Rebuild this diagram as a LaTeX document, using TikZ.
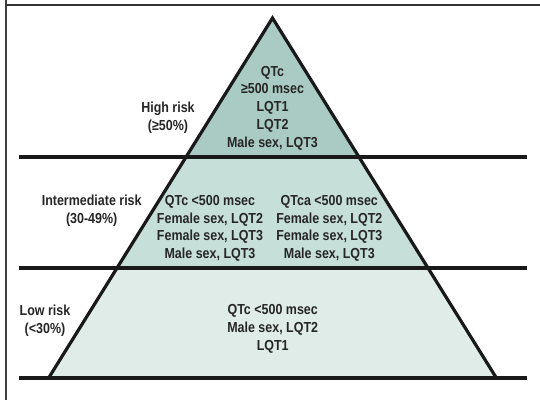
\documentclass[tikz,border=0pt]{standalone}
\usepackage{fontspec}
\setmainfont{Liberation Sans}[FakeStretch=0.86]
\begin{document}
\begin{tikzpicture}[x=1pt,y=-1pt,
  lbl/.style={font=\bfseries\fontsize{14.5}{17.7}\selectfont, text=black!85, align=center, inner sep=0pt},
  band/.style={line width=3.5pt, black!90},
  edge/.style={line width=3.2pt, black!90, line join=miter}]
\useasboundingbox (0,0) rectangle (540,400);
\fill[white] (0,0) rectangle (540,400);
% frame
\draw[line width=1.6pt, black!75] (6,0) -- (6,400);
\draw[line width=2pt, black!80] (6,5) -- (540,5);
% corners of the pyramid
\coordinate (apex) at (272.5,18);
\coordinate (b1l) at (186,157);
\coordinate (b1r) at (359,157);
\coordinate (b2l) at (117,268);
\coordinate (b2r) at (428,268);
\coordinate (b3l) at (48.6,378);
\coordinate (b3r) at (496.4,378);
% fills
\fill[fill={rgb,255:red,169;green,203;blue,195}] (apex) -- (b1l) -- (b1r) -- cycle;
\fill[fill={rgb,255:red,198;green,223;blue,216}] (b1l) -- (b1r) -- (b2r) -- (b2l) -- cycle;
\fill[fill={rgb,255:red,224;green,236;blue,232}] (b2l) -- (b2r) -- (b3r) -- (b3l) -- cycle;
% sides
\draw[edge] (b3l) -- (apex) -- (b3r);
% bands
\draw[band] (19,157) -- (527,157);
\draw[band] (19,268) -- (527,268);
\draw[band] (19,378) -- (527,378);
% labels
\node[lbl] (top) at (272.5,108) {QTc\\≥500 msec\\LQT1\\LQT2\\Male sex, LQT3};
\node[lbl] (high) at (168,117.5) {High risk\\(≥50\%)};
\node[lbl] (inter) at (91.7,211) {Intermediate risk\\(30-49\%)};
\node[lbl] (mid1) at (210,228.5) {QTc <500 msec\\Female sex, LQT2\\Female sex, LQT3\\Male sex, LQT3};
\node[lbl] (mid2) at (329.3,228.5) {QTca <500 msec\\Female sex, LQT2\\Female sex, LQT3\\Male sex, LQT3};
\node[lbl] (low) at (45,320.5) {Low risk\\(<30\%)};
\node[lbl] (bot) at (272.7,328.8) {QTc <500 msec\\Male sex, LQT2\\LQT1};
\end{tikzpicture}
\end{document}
